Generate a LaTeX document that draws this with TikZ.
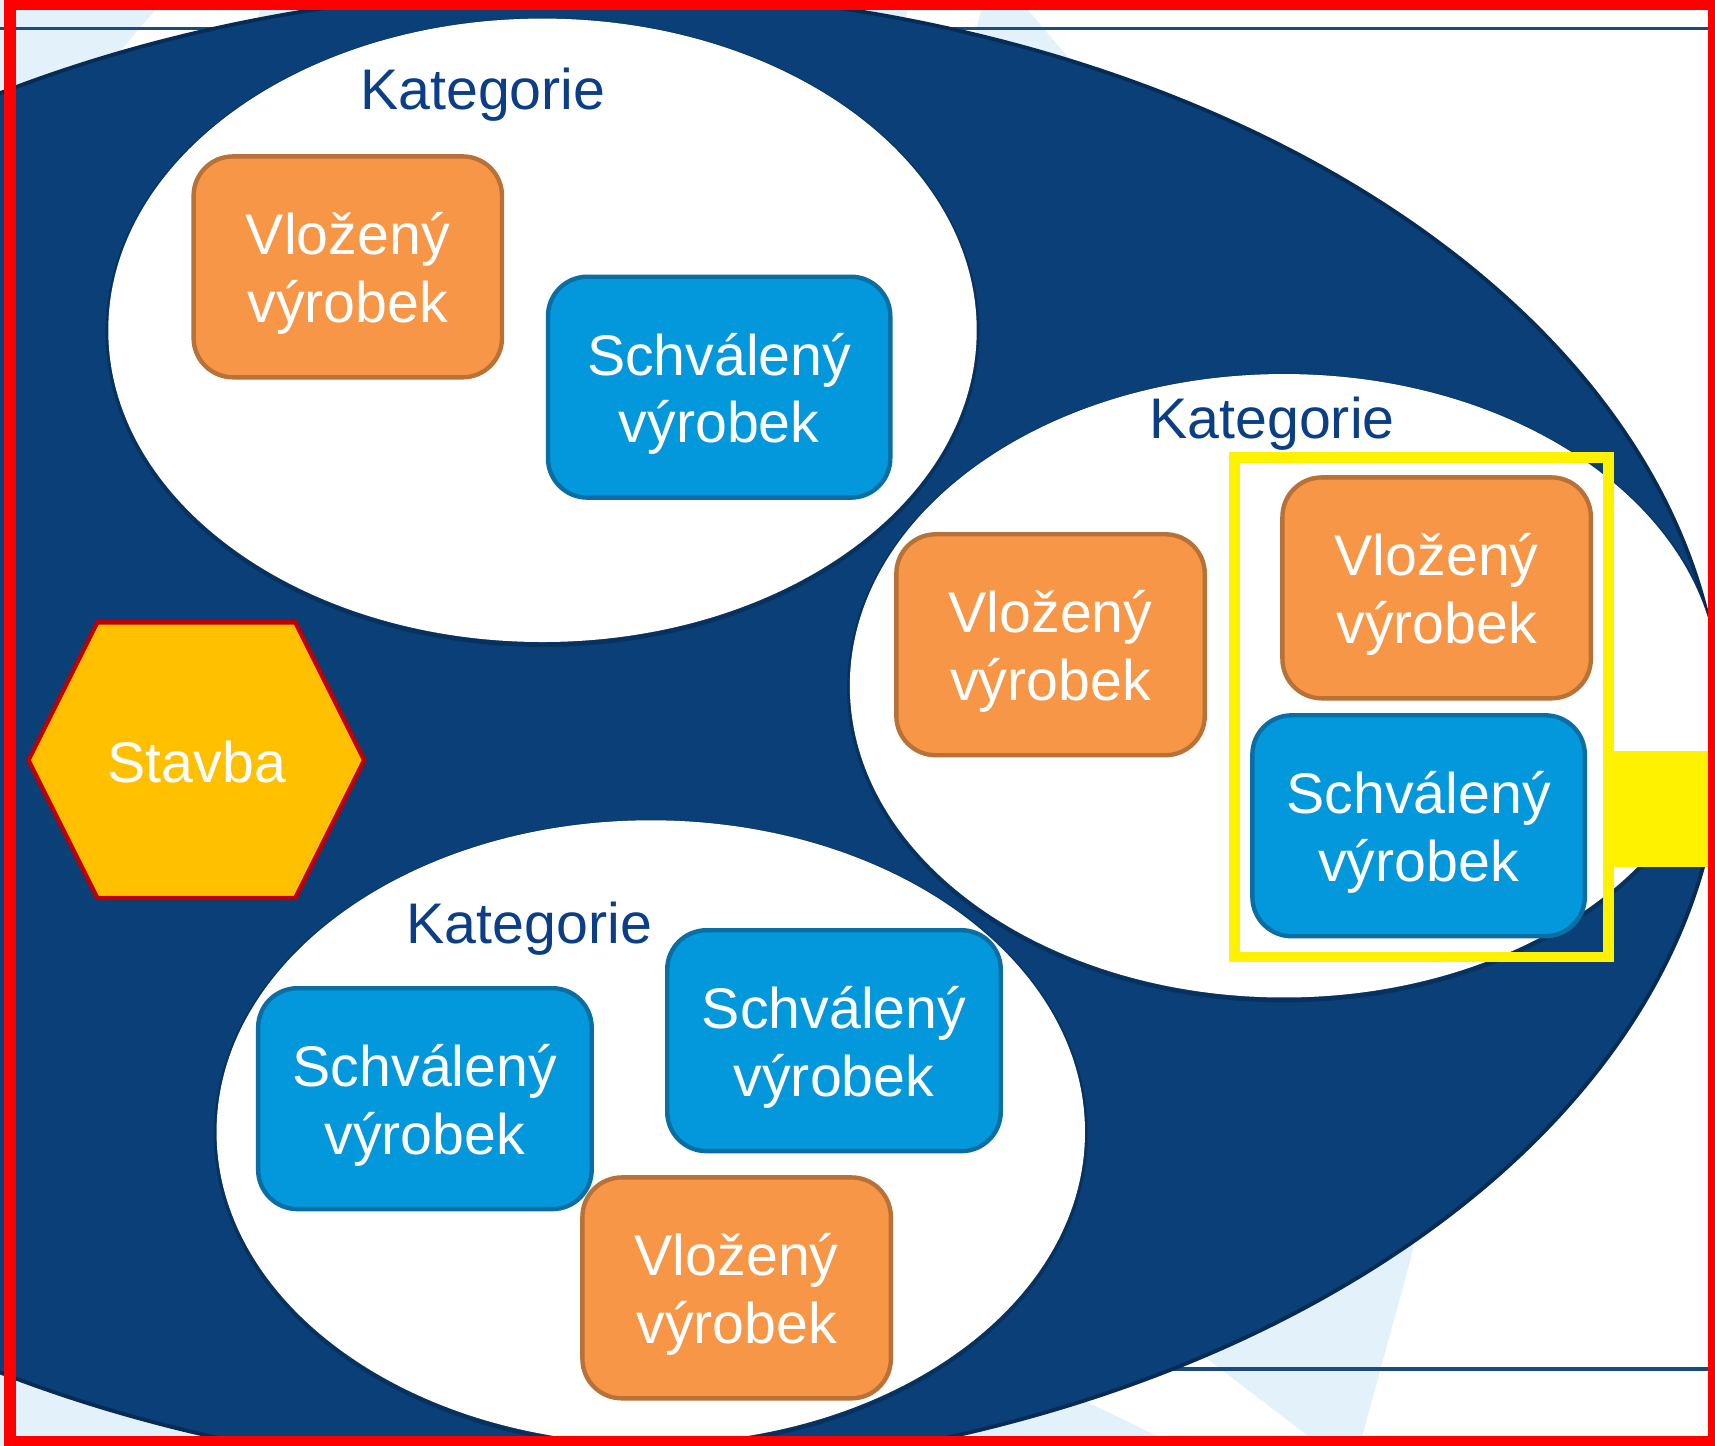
\documentclass[tikz,border=0pt]{standalone}
\usepackage{fontspec}
\setmainfont{Liberation Sans}
\definecolor{navyF}{HTML}{0A3F78}
\definecolor{navyD}{HTML}{062C55}
\definecolor{katC}{HTML}{0B3E86}
\definecolor{orF}{HTML}{F79646}
\definecolor{orD}{HTML}{B87136}
\definecolor{blF}{HTML}{0397DB}
\definecolor{blD}{HTML}{0A6DA3}
\definecolor{hexF}{HTML}{FFC000}
\definecolor{hexD}{HTML}{C00000}
\definecolor{ltB}{HTML}{E3F2FA}
\definecolor{lineC}{HTML}{1A4A80}
\newcommand\lblfont{\fontsize{14.9pt}{17.6pt}\selectfont}
\begin{document}
\begin{tikzpicture}[x=0.1mm,y=-0.1mm,
  vbox/.style={rectangle, rounded corners=3.6mm, fill=orF, draw=orD, line width=0.4mm,
    minimum width=28.2mm, minimum height=20.2mm, inner sep=0pt},
  sbox/.style={vbox, fill=blF, draw=blD, minimum width=30.5mm},
  boxtext/.style={text=white, align=center, font=\lblfont, inner sep=0pt},
  kat/.style={text=katC, font=\lblfont, inner sep=0pt, anchor=base},
  catell/.style={fill=white},
  catshadow/.style={fill=navyD, opacity=0.7},
  lightpoly/.style={fill=ltB},
  hline/.style={draw=lineC, line width=0.35mm},
]
\useasboundingbox (0,0) rectangle (1568,1322);
\clip (0,0) rectangle (1568,1322);
\fill[white] (0,0) rectangle (1568,1322);
% light background swooshes
\fill[lightpoly] (0,0) -- (150,0) -- (107,50) -- (60,100) -- (0,110) -- cycle;
\fill[lightpoly] (240,0) -- (320,0) -- (300,30) -- (230,40) -- cycle;
\fill[lightpoly] (740,0) -- (832,0) -- (818,60) -- (740,60) -- cycle;
\fill[lightpoly] (899,0) -- (932,0) -- (1000,80) -- (880,80) -- cycle;
\fill[lightpoly] (1300,1100) -- (1290,1150) -- (1243,1322) -- (1208,1322) -- (1102,1241) -- (1000,1160) -- (1050,1100) -- cycle;
\fill[lightpoly] (0,1100) -- (900,1100) -- (994,1282) -- (1077,1322) -- (0,1322) -- cycle;
% thin horizontal lines
\coordinate (tl) at (0,26);
\coordinate (tr) at (1568,26);
\coordinate (bl) at (900,1252);
\coordinate (br) at (1568,1252);
\draw[hline] (tl) -- (tr);
\draw[hline] (bl) -- (br);
% big navy ellipse
\filldraw[fill=navyF, draw=navyD, line width=0.35mm] (532,670) ellipse [x radius=104.2mm, y radius=68mm];
% category ellipses
\foreach \cx/\cy in {496/302, 1174/627, 595/1035} {
  \fill[catshadow] (\cx,\cy+2) ellipse [x radius=39.95mm, y radius=28.75mm];
  \fill[catell] (\cx,\cy) ellipse [x radius=39.7mm, y radius=28.5mm];
}
% labels
\node[kat] (k1) at (441.5,100) {Kategorie};
\node[kat] (k2) at (1163,401) {Kategorie};
\node[kat] (k3) at (484,863) {Kategorie};
% product boxes
\node[vbox] (o1) at (318,244) {};
\node[sbox, minimum width=31.3mm] (b1) at (657.5,354) {};
\node[vbox] (o2) at (960.5,589.5) {};
\node[vbox] (o3) at (1313.5,537.5) {};
\node[sbox, minimum width=30.4mm] (b2) at (1297,755) {};
\node[sbox] (b3) at (388.5,1004.5) {};
\node[sbox] (b4) at (762.5,951.5) {};
\node[vbox] (o4) at (673.5,1177.5) {};
\foreach \n in {o1,o2,o3,o4}
  \node[boxtext] (\n t) at ([yshift=-0.6mm]\n.center) {Vložený\\výrobek};
\foreach \n in {b1,b2,b3,b4}
  \node[boxtext] (\n t) at ([yshift=-0.6mm]\n.center) {Schválený\\výrobek};
% hexagon Stavba
\filldraw[fill=hexF, draw=hexD, line width=0.4mm, line join=miter]
  (26,695) -- (89,569) -- (270,569) -- (333,695) -- (270,821) -- (89,821) -- cycle;
\node[text=white, font=\lblfont, inner sep=0pt] (stavba) at (180,697) {Stavba};
% yellow highlight
\draw[yellow, line width=1mm] (1129,418) rectangle (1471,875);
\fill[yellow] (1471,687) rectangle (1568,793);
% red frame
\draw[red, line width=1.1mm] (9.5,4) rectangle (1567,1318);
\end{tikzpicture}
\end{document}
